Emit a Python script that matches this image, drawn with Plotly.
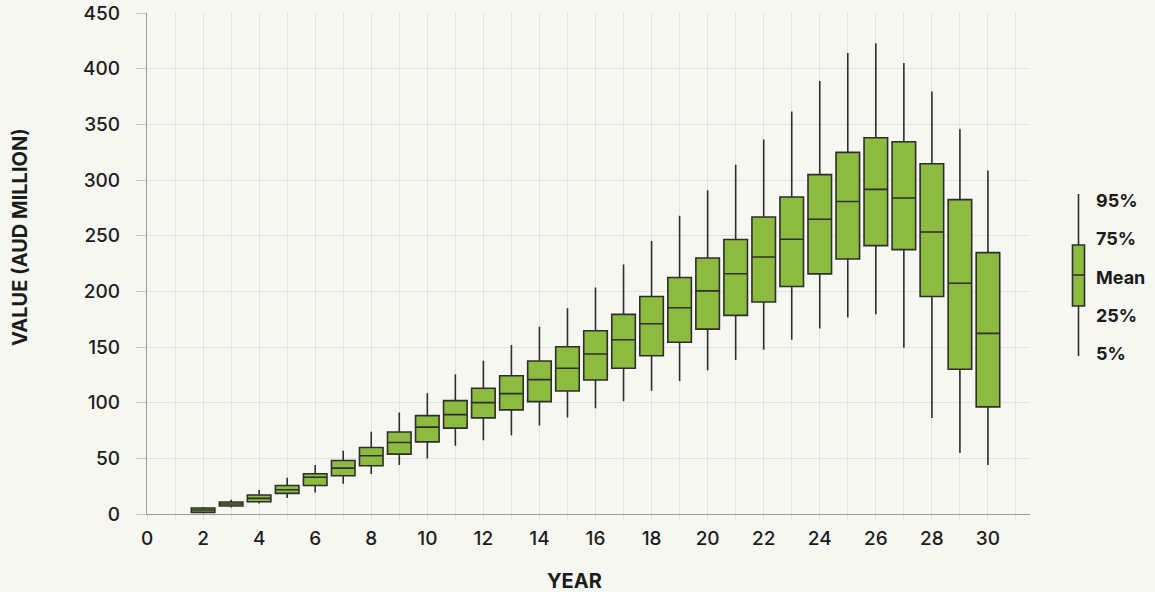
import plotly.graph_objects as go

# Simulated portfolio value distribution by year (AUD million)
years = list(range(2, 31))
p95 = [6.3, 12.8, 21.5, 32.5, 43.9, 56.7, 73.8, 91.1, 108.5, 125.5, 137.7, 151.8,
       168.2, 184.9, 203.5, 224.1, 245.3, 268.0, 290.7, 313.7, 336.4, 361.5,
       389.0, 414.1, 422.8, 405.2, 379.4, 345.6, 308.6]
p75 = [5.4, 10.8, 17.0, 25.6, 36.1, 48.0, 59.7, 73.6, 88.4, 101.8, 112.9, 124.2,
       137.4, 150.2, 164.6, 179.3, 195.4, 212.4, 230.0, 246.5, 266.8, 284.7,
       304.8, 324.8, 338.0, 334.3, 314.6, 282.4, 234.8]
mean = [3.6, 9.0, 14.0, 21.8, 33.0, 41.2, 52.3, 64.2, 78.0, 89.3, 100.0, 108.1,
        120.7, 130.9, 143.7, 156.5, 170.9, 185.2, 200.4, 215.8, 230.9, 246.8,
        264.7, 280.7, 291.6, 283.8, 253.3, 207.3, 162.2]
p25 = [1.5, 7.2, 11.0, 18.5, 25.6, 34.3, 43.3, 53.8, 64.8, 77.1, 86.3, 93.5,
       100.9, 110.5, 120.4, 130.9, 142.2, 154.2, 166.1, 178.4, 190.4, 204.4,
       215.7, 229.1, 241.1, 237.5, 195.4, 130.0, 96.2]
p5 = [0.5, 5.8, 9.5, 14.3, 19.4, 27.2, 35.9, 43.9, 49.8, 61.2, 66.3, 70.8,
      79.4, 86.6, 95.0, 101.3, 110.8, 119.5, 129.1, 138.3, 147.6, 156.6,
      166.7, 176.6, 179.5, 149.3, 86.3, 54.9, 43.9]

x_ticks = list(range(0, 31, 2))
y_ticks = list(range(0, 451, 50))

# Key: schematic box positions and evenly spaced captions
key_box = {"lower": 0, "q1": 50, "mid": 81, "q3": 111, "upper": 162}
key_labels = ["5%", "25%", "Mean", "75%", "95%"]
key_label_pos = [2.7, 40.9, 79.0, 117.2, 155.3]

GREEN = "#8dbb40"
EDGE = "#2e2e2e"
BG = "#f7f7f1"
GRID = "#e3e3e0"
AXIS = "#9c9c9c"
FONT = "Inter"
TEXT = "#1c1c1c"

fig = go.Figure()

fig.add_trace(go.Box(
    x=years, q1=p25, median=mean, q3=p75, lowerfence=p5, upperfence=p95,
    width=0.84, whiskerwidth=0, fillcolor=GREEN,
    line=dict(color=EDGE, width=1.6), boxpoints=False,
    showlegend=False, hoverinfo="skip",
))

fig.add_trace(go.Box(
    x=[0], q1=[key_box["q1"]], median=[key_box["mid"]], q3=[key_box["q3"]],
    lowerfence=[key_box["lower"]], upperfence=[key_box["upper"]],
    width=0.48, whiskerwidth=0, fillcolor=GREEN,
    line=dict(color=EDGE, width=1.6), boxpoints=False,
    xaxis="x2", yaxis="y2", showlegend=False, hoverinfo="skip",
))

L, R, T, B = 147, 0, 13, 78
W, H = 1155, 592
pw, ph = W - L - R, H - T - B


def px_x(p):
    return (p - L) / pw


def px_y(p):
    return (H - B - p) / ph


annotations = [
    dict(text="<b>YEAR</b>", x=px_x(574), y=px_y(581), xref="paper", yref="paper",
         showarrow=False, xanchor="center", yanchor="middle",
         font=dict(size=20, family=FONT, color=TEXT)),
    dict(text="<b>VALUE (AUD MILLION)</b>", x=px_x(20), y=px_y(237),
         xref="paper", yref="paper", textangle=-90, showarrow=False,
         xanchor="center", yanchor="middle",
         font=dict(size=20, family=FONT, color=TEXT)),
]
for lab, pos in zip(key_labels, key_label_pos):
    annotations.append(dict(
        text=f"<b>{lab}</b>", x=px_x(1094), y=pos, xref="paper", yref="y2",
        showarrow=False, xanchor="left", yanchor="middle",
        font=dict(size=18, family=FONT, color=TEXT)))

tick_font = dict(size=19, family=FONT, color=TEXT, weight=500)

fig.update_layout(
    width=W, height=H,
    margin=dict(l=L, r=R, t=T, b=B),
    paper_bgcolor=BG, plot_bgcolor=BG,
    font=dict(family=FONT, color=TEXT),
    xaxis=dict(
        domain=[0, px_x(1030)], range=[0, 31.5],
        tickvals=x_ticks, ticktext=[str(v) for v in x_ticks],
        ticks="outside", ticklen=5, tickcolor=GRID, tickwidth=1,
        showgrid=True, gridcolor=GRID, gridwidth=1,
        minor=dict(dtick=1, tick0=0, showgrid=True, gridcolor=GRID,
                   ticks="outside", ticklen=5, tickcolor=GRID),
        showline=True, linecolor=AXIS, linewidth=1.2,
        zeroline=False, tickfont=tick_font, ticklabelstandoff=2,
        fixedrange=True,
    ),
    yaxis=dict(
        range=[0, 450], tickvals=y_ticks,
        ticks="outside", ticklen=10, tickcolor="#c4c4c2", tickwidth=1,
        showgrid=True, gridcolor=GRID, gridwidth=1,
        showline=True, linecolor=AXIS, linewidth=1.2,
        zeroline=False, ticklabelstandoff=12,
        tickfont=tick_font,
        fixedrange=True,
    ),
    xaxis2=dict(domain=[px_x(1066), px_x(1091)], range=[-0.5, 0.5],
                anchor="y2", visible=False, fixedrange=True),
    yaxis2=dict(domain=[px_y(356), px_y(194)], range=[0, 162],
                anchor="x2", visible=False, fixedrange=True),
    annotations=annotations,
)

fig.write_html("out.html")
